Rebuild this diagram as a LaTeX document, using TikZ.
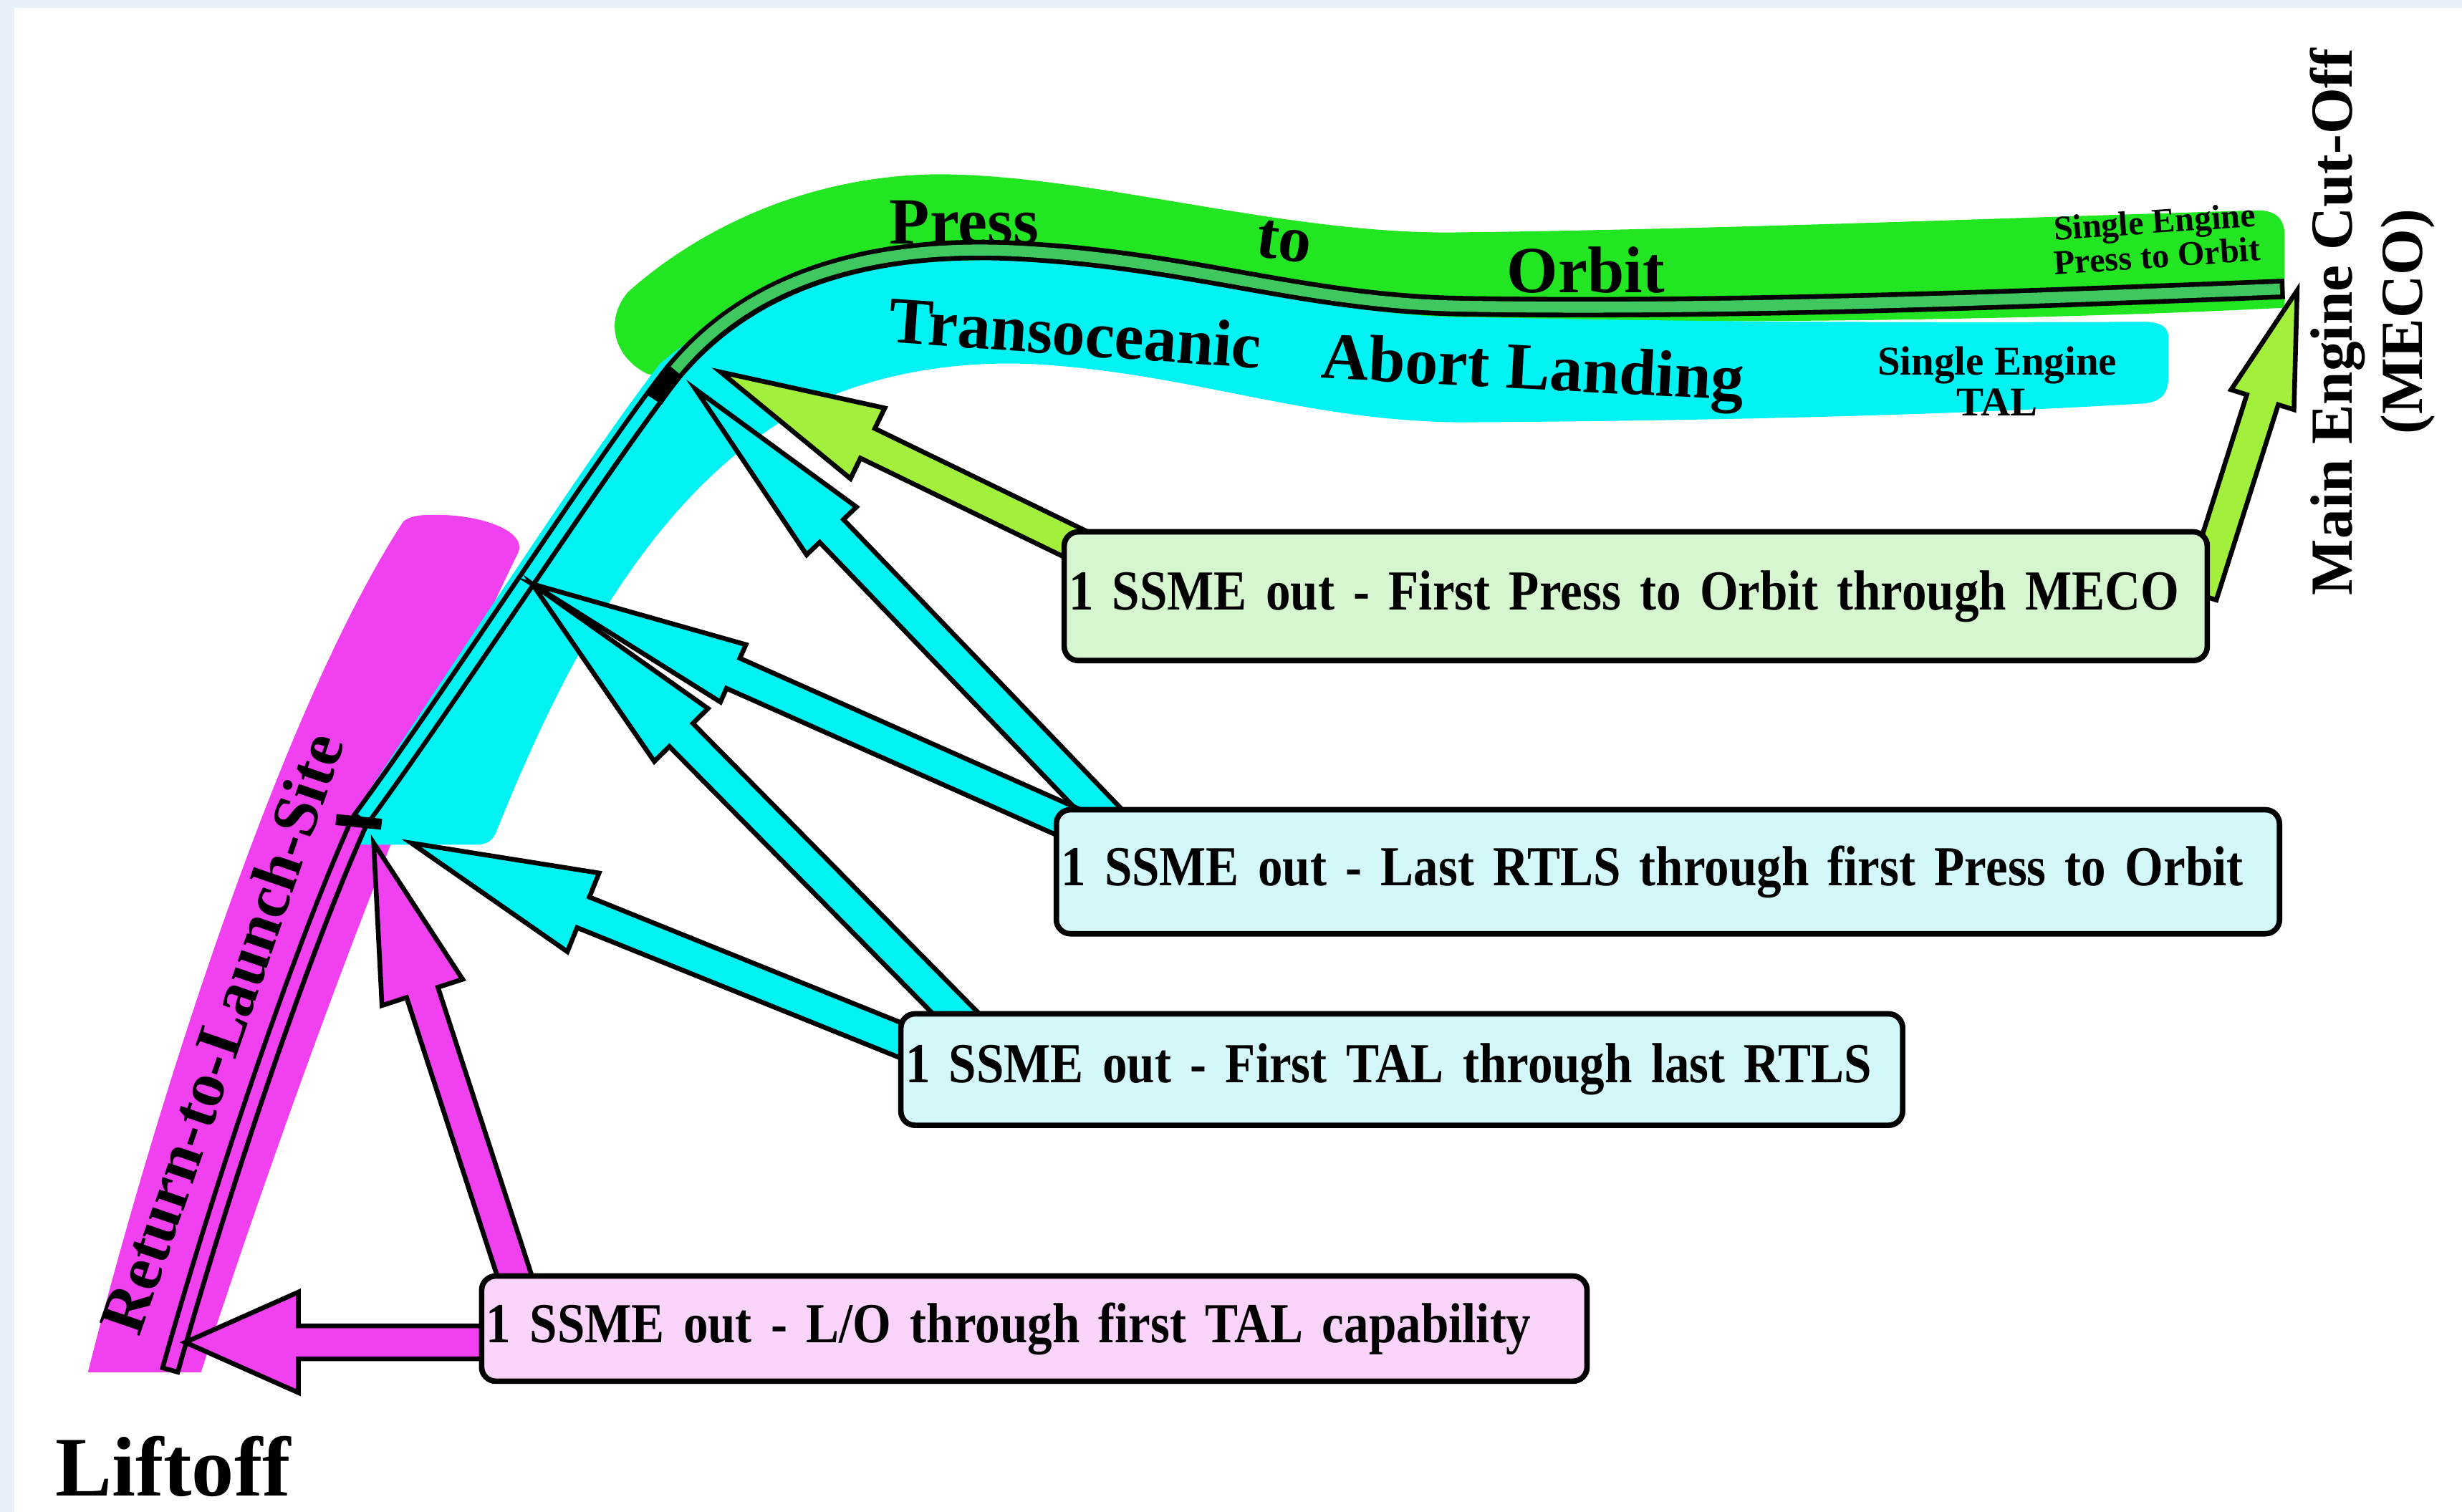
\documentclass[tikz,border=0pt]{standalone}
\usepackage{fontspec}
\setmainfont{Liberation Serif}
\newfontfamily\boxserif[FakeStretch=0.875]{Liberation Serif}
\usetikzlibrary{calc}

\definecolor{pagebg}{HTML}{E9EFF7}
\definecolor{ptogreen}{HTML}{22E622}
\definecolor{talcyan}{HTML}{00F2F2}
\definecolor{rtlsmag}{HTML}{F040F0}
\definecolor{railgreen}{HTML}{40C860}
\definecolor{arrowgreen}{HTML}{A3F03C}
\definecolor{boxgreen}{HTML}{D5F6CE}
\definecolor{boxcyan}{HTML}{D4F8FA}
\definecolor{boxpink}{HTML}{FAD4FA}

\pgfdeclarelayer{bands}
\pgfdeclarelayer{arrows}
\pgfsetlayers{bands,arrows,main}

\tikzset{
  casebox/.style={draw, line width=3.5pt, rounded corners=9pt, anchor=north west,
    inner xsep=3pt, inner ysep=0pt, align=left, font=\boxserif\fontsize{36}{40}\selectfont\bfseries},
  arrowline/.style={draw=black, line width=3pt, line join=miter},
  railout/.style={line width=13pt},
  railin/.style={line width=7pt, shorten <=3pt, shorten >=3pt},
  bandlabel/.style={font=\fontsize{42}{46}\selectfont\bfseries, inner sep=0pt}
}

\newcommand{\shaftw}{10.5pt}
% #1 fill, #2 tail, #3 tip, #4 head length, #5 head half width
\newcommand{\abortarrow}[5]{%
  \path ($(#3)!#4pt!(#2)$) coordinate (neck);
  \draw[arrowline, fill=#1] ($(#2)!\shaftw!90:(#3)$) -- ($(neck)!\shaftw!90:(#3)$)
    -- ($(neck)!#5pt!90:(#3)$) -- (#3) -- ($(neck)!#5pt!-90:(#3)$)
    -- ($(neck)!\shaftw!-90:(#3)$) -- ($(#2)!\shaftw!-90:(#3)$) -- cycle;}

\begin{document}
\begin{tikzpicture}[x=1pt, y=-1pt]
\useasboundingbox (0,0) rectangle (1568,963);

\coordinate (liftoff) at (108,874);
\coordinate (rtls) at (229,523);
\coordinate (mid) at (339,372);
\coordinate (tal) at (428,238);
\coordinate (meco) at (1455,184);

\node[casebox, fill=boxgreen, text width=722pt, minimum height=82pt] (ptobox) at (676,337)
  {\mbox{1 SSME out - First Press to Orbit through MECO}};
\node[casebox, fill=boxcyan, text width=773pt, minimum height=79pt] (lastrtlsbox) at (671,514)
  {\mbox{1 SSME out - Last RTLS through first Press to Orbit}};
\node[casebox, fill=boxcyan, text width=632pt, minimum height=71pt] (firsttalbox) at (572,644)
  {\mbox{1 SSME out - First TAL through last RTLS}};
\node[casebox, fill=boxpink, text width=698pt, minimum height=67pt] (lobox) at (305,811)
  {\mbox{1 SSME out - L/O through first TAL capability}};

\coordinate (tailA) at ($(ptobox.north west)+(16,13)$);
\coordinate (tailB) at ($(ptobox.north east)+(-6,42)$);
\coordinate (tailC) at ($(lastrtlsbox.north west)+(39,12)$);
\coordinate (tailD) at ($(lastrtlsbox.north west)+(19,14)$);
\coordinate (tailE) at ($(firsttalbox.north west)+(50,15)$);
\coordinate (tailF) at ($(firsttalbox.north west)+(10,22)$);
\coordinate (tailG) at ($(lobox.north west)+(28,18)$);
\coordinate (tailH) at ($(lobox.north west)+(15,44)$);
\coordinate (tipA) at (459,237);
\coordinate (tipB) at (1463,185);
\coordinate (tipC) at (443,248);
\coordinate (tipF) at (262,537);
\coordinate (tipG) at (238,537);
\coordinate (tipH) at (118,855);

\begin{pgfonlayer}{bands}
\fill[pagebg] (0,0) rectangle (1568,963);
\fill[white] (9,5) rectangle (1568,963);
\fill[rtlsmag] (56,874) -- (128,874) .. controls (185,700) and (262,490) .. (330,352)
  .. controls (336,338) and (305,327) .. (274,328) .. controls (266,328) and (261,329) .. (257,332)
  .. controls (180,450) and (100,700) .. (56,874) -- cycle;
\fill[ptogreen] (412,238) .. controls (392,228) and (384,205) .. (400,186)
  .. controls (440,150) and (510,111) .. (600,111)
  .. controls (700,112) and (820,150) .. (930,148)
  .. controls (1100,146) and (1300,138) .. (1438,134)
  .. controls (1450,134) and (1455,140) .. (1455,150) -- (1455,196)
  .. controls (1300,204) and (1100,206) .. (930,204)
  .. controls (830,202) and (760,168) .. (650,168)
  .. controls (560,164) and (480,190) .. (440,246) -- cycle;
\fill[talcyan] (420,232) .. controls (372,294) and (282,434) .. (224,520) -- (222,532)
  .. controls (222,536) and (226,538) .. (232,538) -- (304,538)
  .. controls (310,538) and (314,535) .. (316,530)
  .. controls (360,420) and (420,305) .. (520,256)
  .. controls (570,234) and (620,230) .. (660,232)
  .. controls (760,238) and (830,268) .. (930,269)
  .. controls (1100,268) and (1250,264) .. (1365,257)
  .. controls (1377,256) and (1381,250) .. (1381,240) -- (1381,215)
  .. controls (1381,208) and (1376,205) .. (1365,205)
  .. controls (1100,206) and (1000,203) .. (930,202)
  .. controls (830,200) and (760,168) .. (650,166)
  .. controls (560,163) and (480,180) .. (420,232) -- cycle;

\draw[railout] (liftoff) .. controls (140,760) and (190,610) .. (rtls);
\draw[railin, rtlsmag] (liftoff) .. controls (140,760) and (190,610) .. (rtls);
\draw[railout] (rtls) .. controls (290,440) and (380,300) .. (tal);
\draw[railin, talcyan] (rtls) .. controls (290,440) and (380,300) .. (tal);
\draw[railout] (tal) .. controls (480,175) and (560,155) .. (650,160)
  .. controls (760,166) and (830,193) .. (930,195) .. controls (1100,198) and (1300,190) .. (meco);
\draw[railin, railgreen] (tal) .. controls (480,175) and (560,155) .. (650,160)
  .. controls (760,166) and (830,193) .. (930,195) .. controls (1100,198) and (1300,190) .. (meco);
\draw[line width=11pt] ($(tal)!-2pt!(mid)$) -- ($(tal)!20pt!(mid)$);
\draw[line width=7pt] ($(rtls)+(-15,-1)$) -- ($(rtls)+(14,2)$);
\end{pgfonlayer}

\begin{pgfonlayer}{arrows}
\abortarrow{arrowgreen}{tailA}{tipA}{104}{25}
\abortarrow{arrowgreen}{tailB}{tipB}{73}{21}
\abortarrow{talcyan}{tailC}{tipC}{125}{22}
\abortarrow{talcyan}{tailE}{mid}{135}{24}
\abortarrow{talcyan}{tailD}{mid}{140}{20}
\abortarrow{talcyan}{tailF}{tipF}{118}{27}
\abortarrow{rtlsmag}{tailG}{tipG}{100}{27}
\abortarrow{rtlsmag}{tailH}{tipH}{72}{32}
\end{pgfonlayer}

\node[bandlabel] (press) at (614,142) {Press};
\node[bandlabel, rotate=-8] (to) at (818,154) {to};
\node[bandlabel] (orbit) at (1010,172) {Orbit};
\node[bandlabel, rotate=-4] (transoc) at (685,212) {Transoceanic};
\node[bandlabel, rotate=-3] (abortland) at (976,238) {Abort Landing};
\node[font=\fontsize{26}{26}\selectfont\bfseries, align=center, inner sep=0pt] (setal) at (1272,243)
  {Single Engine\\TAL};
\node[font=\fontsize{22}{22}\selectfont\bfseries, align=center, inner sep=0pt, rotate=4] (septo) at (1373,152)
  {Single Engine\\Press to Orbit};
\node[font=\fontsize{38}{45}\selectfont\bfseries, align=center, inner sep=0pt, rotate=90] (mecolabel) at (1511,205)
  {Main Engine Cut-Off\\(MECO)};
\node[font=\fontsize{41}{46}\selectfont\bfseries, inner sep=0pt, rotate=71] (rtlslabel) at (141,658)
  {Return-to-Launch-Site};
\node[font=\fontsize{54}{60}\selectfont\bfseries, anchor=base west, inner sep=0pt] (liftofflabel) at (35,953)
  {Liftoff};
\end{tikzpicture}
\end{document}
